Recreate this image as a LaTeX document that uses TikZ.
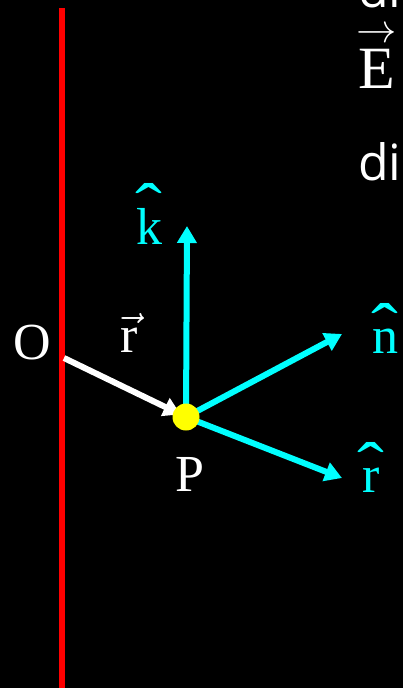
\RequirePackage{fix-cm}
\documentclass[tikz,border=0pt]{standalone}
\usepackage{amsmath}
\usepackage{fontspec}
\setmainfont{Liberation Serif}
\newfontfamily\sansfnt{Open Sans}
\usetikzlibrary{arrows.meta,positioning}
\definecolor{wire}{HTML}{FF0000}
\definecolor{unitc}{HTML}{00FFFF}
\definecolor{dotc}{HTML}{FFFF00}
% unit vector: letter with a wide hat
\newcommand\hatlbl[1]{\setbox0\hbox{#1}\leavevmode\hbox to\wd0{\hss\raisebox{\dimexpr\ht0-0.43em\relax}{\scalebox{1.55}[1.3]{\char"02C6}}\hss}\kern-\wd0\box0}
% field vector: long arrow over the letter
\newcommand\veclbl[1]{\setbox0\hbox{#1}\leavevmode\vbox{\offinterlineskip\halign{\hfil##\hfil\cr
\resizebox{1.1\wd0}{!}{$\rightarrow$}\cr\noalign{\kern6pt}\box0\cr}}}

\begin{document}
\begin{tikzpicture}[x=1pt,y=-1pt, every node/.style={font=\fontsize{52}{60}\selectfont,inner sep=0pt},
vecarr/.style={line width=6pt,-{Triangle[length=17pt,width=19pt]}},
unitarr/.style={vecarr,draw=unitc},lbl/.style={text=unitc,anchor=base},
pt/.style={circle,fill=dotc,minimum size=27pt}]
\fill[black] (0,0) rectangle (403,688);
\useasboundingbox (0,0) rectangle (403,688);
\draw[wire,line width=6pt] (62,8)--(62,688);
\coordinate (O) at (64,358);
\coordinate (P) at (186,417);
\coordinate (k) at (187,226);
\coordinate (n) at (342,334);
\coordinate (r) at (342,478);
\draw[vecarr,draw=white,shorten >=6pt] (O)--(P);
\draw[unitarr] (P)--(k);\draw[unitarr] (P)--(n);\draw[unitarr] (P)--(r);
\node[pt] (Pdot) at (P) {};
\node[text=white] (Olbl) at (32,343) {O};
\node[text=white] (Plbl) at (190,474) {P};
\node[text=white] (rvec) at (129,333) {$\vec{\text{r}}$};
\node[lbl] (klbl) at (149,244) {\hatlbl{k}};
\node[lbl] (nlbl) at (385,353) {\hatlbl{n}};
\node[lbl] (rlbl) at (371,492) {\hatlbl{r}};
\node[text=white,font=\fontsize{60}{70}\selectfont,anchor=base] (E) at (377,88) {\veclbl{E}};
\node[text=white,font=\sansfnt\fontsize{50}{60}\selectfont,anchor=base west] (di) at (358,180) {di};
\node[text=white,font=\sansfnt\fontsize{50}{60}\selectfont,anchor=base west] (di2) at (358,8) {di};
\end{tikzpicture}
\end{document}
